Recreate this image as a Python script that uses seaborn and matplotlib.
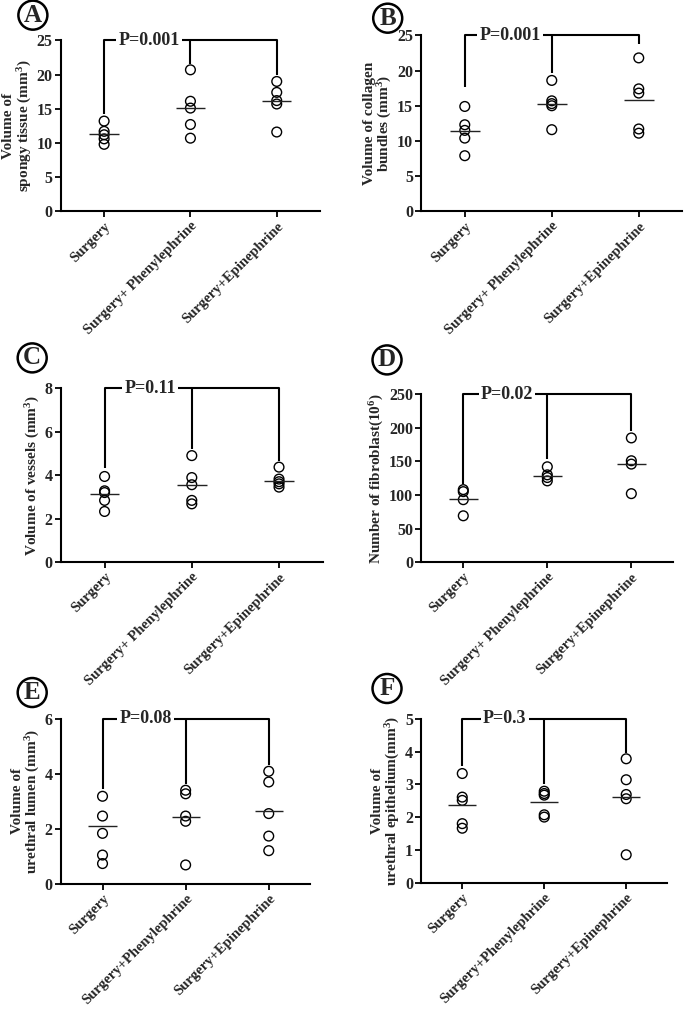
import matplotlib
matplotlib.use("Agg")
import matplotlib.pyplot as plt
import pandas as pd
import seaborn as sns

sns.set_style("ticks")
plt.rcParams["font.family"] = ["Liberation Serif", "DejaVu Serif"]
plt.rcParams["font.weight"] = "bold"
plt.rcParams["axes.labelweight"] = "bold"
plt.rcParams["mathtext.fontset"] = "custom"
plt.rcParams["mathtext.rm"] = "Liberation Serif:bold"
plt.rcParams["mathtext.it"] = "Liberation Serif:bold"
plt.rcParams["mathtext.bf"] = "Liberation Serif:bold"

# Группы
groups_ab = ["Surgery", "Surgery+ Phenylephrine", "Surgery+Epinephrine"]
groups_ef = ["Surgery", "Surgery+Phenylephrine", "Surgery+Epinephrine"]

# A - губчатая ткань
spongy_surgery = [13.2, 11.7, 11.2, 10.6, 9.8]
spongy_phenyl = [20.7, 16.1, 15.1, 12.7, 10.7]
spongy_epi = [19.0, 17.4, 16.2, 15.7, 11.6]
spongy_means = [11.35, 15.1, 16.1]
spongy_tips = [14.2, 21.5, 20.0]

# B - коллагеновые пучки
collagen_surgery = [14.9, 12.3, 11.5, 10.4, 7.9]
collagen_phenyl = [18.6, 15.7, 15.3, 15.0, 11.6]
collagen_epi = [21.8, 17.4, 16.8, 11.7, 11.1]
collagen_means = [11.4, 15.2, 15.8]
collagen_tips = [17.7, 19.6, 23.8]

# C - сосуды
vessels_surgery = [3.94, 3.28, 3.2, 2.84, 2.33]
vessels_phenyl = [4.9, 3.89, 3.56, 2.84, 2.68]
vessels_epi = [4.37, 3.82, 3.7, 3.6, 3.45]
vessels_means = [3.14, 3.57, 3.75]
vessels_tips = [4.35, 5.2, 4.66]

# D - фибробласты
fibro_surgery = [108, 105, 93, 69]
fibro_phenyl = [142, 130, 126, 121]
fibro_epi = [185, 151, 146, 102]
fibro_means = [94, 129, 146]
fibro_tips = [117, 153, 195]

# E - просвет уретры
lumen_surgery = [3.18, 2.46, 1.83, 1.04, 0.73]
lumen_phenyl = [3.4, 3.27, 2.46, 2.27, 0.68]
lumen_epi = [4.09, 3.7, 2.55, 1.73, 1.2]
lumen_means = [2.09, 2.42, 2.66]
lumen_tips = [3.46, 3.63, 4.31]

# F - эпителий уретры
epith_surgery = [3.33, 2.61, 2.51, 1.8, 1.66]
epith_phenyl = [2.79, 2.72, 2.67, 2.07, 2.0]
epith_epi = [3.78, 3.14, 2.69, 2.56, 0.85]
epith_means = [2.37, 2.45, 2.61]
epith_tips = [3.56, 3.0, 3.96]

panels = [
    dict(letter="A", groups=groups_ab, values=[spongy_surgery, spongy_phenyl, spongy_epi],
         means=spongy_means, tips=spongy_tips, ymax=25, yticks=[0, 5, 10, 15, 20, 25],
         ylabel="Volume of\nspongy tissue (mm$^3$)", p="P=0.001",
         rect=[0.089, 0.791, 0.378, 0.169], lpos=(0.048, 0.985)),
    dict(letter="B", groups=groups_ab, values=[collagen_surgery, collagen_phenyl, collagen_epi],
         means=collagen_means, tips=collagen_tips, ymax=25, yticks=[0, 5, 10, 15, 20, 25],
         ylabel="Volume of collagen\nbundles (mm$^3$)", p="P=0.001",
         rect=[0.615, 0.791, 0.381, 0.174], lpos=(0.566, 0.982)),
    dict(letter="C", groups=groups_ab, values=[vessels_surgery, vessels_phenyl, vessels_epi],
         means=vessels_means, tips=vessels_tips, ymax=8, yticks=[0, 2, 4, 6, 8],
         ylabel="Volume of vessels (mm$^3$)", p="P=0.11",
         rect=[0.089, 0.444, 0.382, 0.172], lpos=(0.047, 0.646)),
    dict(letter="D", groups=groups_ab, values=[fibro_surgery, fibro_phenyl, fibro_epi],
         means=fibro_means, tips=fibro_tips, ymax=250, yticks=[0, 50, 100, 150, 200, 250],
         ylabel="Number of fibroblast(10$^6$)", p="P=0.02",
         rect=[0.615, 0.444, 0.368, 0.166], lpos=(0.565, 0.644)),
    dict(letter="E", groups=groups_ef, values=[lumen_surgery, lumen_phenyl, lumen_epi],
         means=lumen_means, tips=lumen_tips, ymax=6, yticks=[0, 2, 4, 6],
         ylabel="Volume of\nurethral lumen (mm$^3$)", p="P=0.08",
         rect=[0.089, 0.126, 0.364, 0.163], lpos=(0.047, 0.315)),
    dict(letter="F", groups=groups_ef, values=[epith_surgery, epith_phenyl, epith_epi],
         means=epith_means, tips=epith_tips, ymax=5, yticks=[0, 1, 2, 3, 4, 5],
         ylabel="Volume of\nurethral epithelium(mm$^3$)", p="P=0.3",
         rect=[0.615, 0.127, 0.359, 0.162], lpos=(0.565, 0.319)),
]


def draw_panel(fig, spec):
    """Одна панель: точки, средние, скобка с P"""
    ax = fig.add_axes(spec["rect"])
    rows = []
    for g, vals in zip(spec["groups"], spec["values"]):
        for v in vals:
            rows.append({"group": g, "value": v})
    df = pd.DataFrame(rows)

    sns.stripplot(data=df, x="group", y="value", order=spec["groups"], jitter=False,
                  size=7, color="white", edgecolor="black", linewidth=1.0, ax=ax,
                  zorder=3)
    for coll in ax.collections:
        coll.set_facecolor("none")

    # Средние линии
    for i, m in enumerate(spec["means"]):
        ax.hlines(m, i - 0.17, i + 0.17, color="#222222", linewidth=1.0, zorder=4)

    # Скобка
    top = spec["ymax"]
    for i, tip in enumerate(spec["tips"]):
        ax.plot([i, i], [tip, top], color="black", linewidth=1.5, clip_on=False,
                solid_capstyle="butt")
    ax.plot([0, 2], [top, top], color="black", linewidth=1.5, clip_on=False)
    ax.text(0.52, top, spec["p"], ha="center", va="center", fontsize=13,
            fontweight="bold", zorder=5,
            bbox=dict(facecolor="white", edgecolor="none", pad=1.5))

    ax.set_xlim(-0.5, 2.5)
    ax.set_ylim(0, top)
    ax.set_yticks(spec["yticks"])
    ax.set_xlabel("")
    ax.set_ylabel(spec["ylabel"], fontsize=11, fontweight="bold", labelpad=2,
                  linespacing=1.0)
    ax.set_xticks(range(3))
    ax.set_xticklabels(spec["groups"], rotation=45, ha="right", rotation_mode="anchor",
                       fontsize=10.5, fontweight="bold")
    for lbl in ax.get_yticklabels():
        lbl.set_fontweight("bold")
        lbl.set_fontsize(11.5)
    ax.tick_params(axis="both", direction="out", length=4, width=1.3, color="black",
                   pad=2)
    sns.despine(ax=ax)
    for s in ["left", "bottom"]:
        ax.spines[s].set_linewidth(1.5)
        ax.spines[s].set_color("black")

    fig.text(spec["lpos"][0], spec["lpos"][1], spec["letter"], ha="center", va="center",
             fontsize=18, fontweight="bold",
             bbox=dict(boxstyle="circle,pad=0.12", facecolor="white", edgecolor="black",
                       linewidth=1.8))
    return ax


fig = plt.figure(figsize=(6.85, 10.11), dpi=100)
for spec in panels:
    draw_panel(fig, spec)

plt.savefig("out.png", dpi=100, facecolor="white")
plt.close()
